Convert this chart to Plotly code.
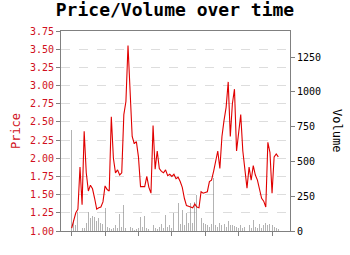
import plotly.graph_objects as go

price = [1.04, 1.15, 1.25, 1.30, 1.88, 1.36, 2.37, 1.80, 1.55, 1.63,
         1.58, 1.45, 1.30, 1.32, 1.33, 1.40, 1.62, 1.57, 1.55, 2.57,
         2.00, 1.80, 1.84, 1.77, 1.80, 2.60, 2.78, 3.55, 2.85, 2.30,
         2.20, 2.23, 2.02, 1.61, 1.61, 1.61, 1.75, 1.60, 1.52, 2.45,
         1.85, 2.10, 1.86, 1.82, 1.80, 1.84, 1.76, 1.78, 1.75, 1.78,
         1.72, 1.74, 1.68, 1.60, 1.45, 1.35, 1.34, 1.33, 1.32, 1.37,
         1.33, 1.32, 1.54, 1.52, 1.53, 1.54, 1.68, 1.70, 1.82, 1.95,
         2.10, 1.86, 2.30, 2.52, 2.70, 3.05, 2.30, 2.75, 2.95, 2.10,
         2.36, 2.60, 2.10, 1.88, 1.59, 1.88, 1.70, 1.90, 1.77, 1.70,
         1.55, 1.45, 1.41, 1.33, 2.22, 2.08, 1.52, 2.02, 2.06, 2.02]

volume = [725, 80, 40, 140, 30, 20, 25, 60, 140, 90,
          110, 100, 70, 90, 60, 50, 167, 30, 20, 15,
          20, 40, 25, 120, 30, 187, 20, 15, 30, 20,
          10, 15, 25, 100, 30, 110, 20, 15, 25, 40,
          20, 15, 30, 50, 25, 115, 30, 40, 20, 127,
          30, 200, 50, 150, 40, 127, 60, 198, 60, 210,
          258, 390, 90, 60, 50, 40, 30, 50, 378, 40,
          30, 60, 40, 50, 30, 70, 40, 40, 35, 30,
          25, 40, 20, 30, 15, 40, 25, 80, 30, 20,
          50, 25, 45, 55, 40, 50, 40, 30, 20, 15]

t = list(range(len(price)))
price_ticks = [1.00, 1.25, 1.50, 1.75, 2.00, 2.25, 2.50, 2.75, 3.00, 3.25, 3.50, 3.75]
volume_ticks = [0, 250, 500, 750, 1000, 1250]
time_ticks = [0, 16, 32, 48, 64, 80, 96]

FONT = "DejaVu Sans Mono"

fig = go.Figure()
fig.add_trace(go.Bar(x=t, y=volume, yaxis="y", width=0.45,
                     marker=dict(color="rgba(128,128,128,0.6)", line=dict(width=0)),
                     showlegend=False))
fig.add_trace(go.Scatter(x=t, y=price, yaxis="y2", mode="lines",
                         line=dict(color="#e00000", width=1.1), showlegend=False))

fig.update_layout(
    width=350, height=255,
    margin=dict(l=61, r=60, t=31, b=24),
    paper_bgcolor="white", plot_bgcolor="white",
    font=dict(family=FONT, size=10, color="black"),
    title=dict(text="<b>Price/Volume over time</b>", x=0.5, xanchor="center",
               y=0.985, yanchor="top", font=dict(family=FONT, size=18, color="black")),
    xaxis=dict(range=[-5.1, 104.6], tickmode="array", tickvals=time_ticks,
               ticktext=["" for _ in time_ticks], ticks="outside", ticklen=4,
               tickcolor="#808080", showgrid=False, zeroline=False,
               showline=True, linecolor="#808080", linewidth=1, mirror=True),
    yaxis=dict(side="right", range=[0, 1437], tickmode="array", tickvals=volume_ticks,
               ticks="outside", ticklen=4, tickcolor="#808080", showgrid=False,
               zeroline=False, showline=True, linecolor="#808080", linewidth=1,
               tickfont=dict(family=FONT, size=10, color="black")),
    yaxis2=dict(side="left", overlaying="y", range=[1.0, 3.75], tickmode="array",
                tickvals=price_ticks, tickformat=".2f", ticks="outside", ticklen=4,
                tickcolor="#808080", showgrid=True, gridcolor="#dddddd",
                griddash="dash", gridwidth=1, zeroline=False, showline=True,
                linecolor="#808080", linewidth=1,
                tickfont=dict(family=FONT, size=10, color="#d01020"),
                title=dict(text="Price", standoff=6,
                           font=dict(family=FONT, size=12, color="#d01020"))),
    annotations=[dict(text="Volume", textangle=90, x=1.205, y=0.5, xref="paper",
                      yref="paper", showarrow=False, xanchor="center", yanchor="middle",
                      font=dict(family=FONT, size=12, color="black"))],
    bargap=0,
)

fig.write_html("out.html")
